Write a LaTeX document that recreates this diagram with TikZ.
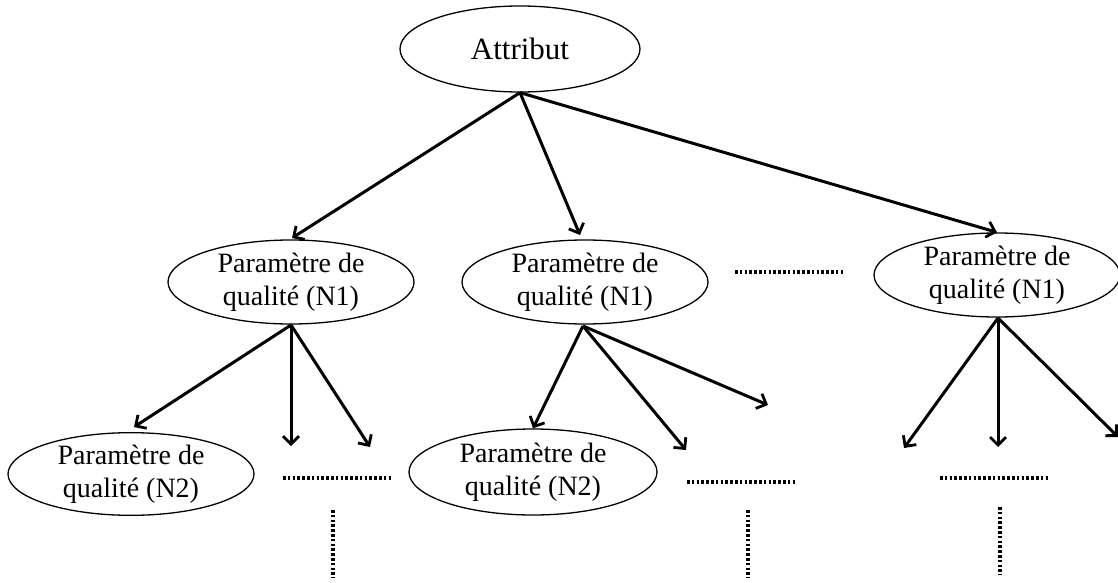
\documentclass[tikz,border=0pt]{standalone}
\usepackage{fontspec}
\setmainfont{Liberation Serif}
\usetikzlibrary{shapes.geometric,arrows.meta}
\begin{document}
\begin{tikzpicture}[x=1pt,y=-1pt,
  ell/.style={draw,ellipse,line width=1.3pt,inner sep=0pt,align=center},
  param/.style={ell,minimum width=246pt,minimum height=84pt,font=\fontsize{28}{33}\selectfont},
  arr/.style={line width=3pt,-{Straight Barb[length=8pt,width=16pt,line width=2.8pt]}},
  dots/.style={line width=3.6pt,dash pattern=on 2.6pt off 2.2pt}]
\useasboundingbox (0,0) rectangle (1118,583);
\node[ell,minimum width=240pt,minimum height=86pt,font=\fontsize{31}{36}\selectfont] (A) at (520,49) {Attribut};
\node[param] (P1) at (291,282) {Paramètre de\\qualité (N1)};
\node[param] (P2) at (585,282) {Paramètre de\\qualité (N1)};
\node[param] (P3) at (997,275) {Paramètre de\\qualité (N1)};
\node[param,minimum height=78pt] (Q1) at (131,474) {Paramètre de\\qualité (N2)};
\node[param,minimum width=248pt,minimum height=86pt] (Q2) at (533,472) {Paramètre de\\qualité (N2)};
\coordinate (s1) at (291,325);
\coordinate (s2) at (583,326);
\coordinate (s3) at (998,318);
\coordinate (t11) at (134,427);
\coordinate (t12) at (291,446);
\coordinate (t13) at (370,447);
\coordinate (t22) at (686,450);
\coordinate (t23) at (768,405);
\coordinate (t31) at (904,448);
\coordinate (t32) at (998,447);
\coordinate (t33) at (1118,437);
\draw[arr] (A.south) -- (292,238) coordinate (a1);
\draw[arr] (A.south) -- (580,235) coordinate (a2);
\draw[arr] (A.south) -- (P3.north);
\draw[arr] (s1) -- (t11);
\draw[arr] (s1) -- (t12);
\draw[arr] (s1) -- (t13);
\draw[arr] (s2) -- (Q2.north);
\draw[arr] (s2) -- (t22);
\draw[arr] (s2) -- (t23);
\draw[arr] (s3) -- (t31);
\draw[arr] (s3) -- (t32);
\draw[arr] (s3) -- (t33);
\coordinate (d0a) at (735,272); \coordinate (d0b) at (843,272);
\coordinate (d1a) at (283,478); \coordinate (d1b) at (392,478);
\coordinate (d1c) at (333,510); \coordinate (d1d) at (333,578);
\coordinate (d2a) at (687,482); \coordinate (d2b) at (797,482);
\coordinate (d2c) at (748,510); \coordinate (d2d) at (748,578);
\coordinate (d3a) at (940,478); \coordinate (d3b) at (1050,478);
\coordinate (d3c) at (1000,507); \coordinate (d3d) at (1000,575);
\draw[dots] (d0a) -- (d0b);
\draw[dots] (d1a) -- (d1b);
\draw[dots] (d1c) -- (d1d);
\draw[dots] (d2a) -- (d2b);
\draw[dots] (d2c) -- (d2d);
\draw[dots] (d3a) -- (d3b);
\draw[dots] (d3c) -- (d3d);
\end{tikzpicture}
\end{document}
